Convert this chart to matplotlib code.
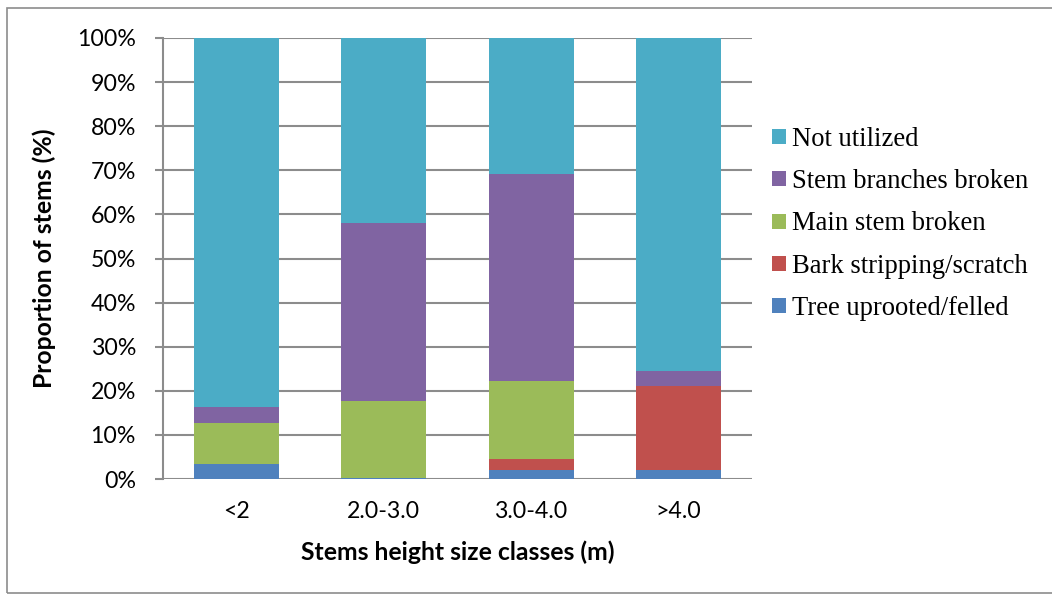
import matplotlib
matplotlib.use("Agg")
import matplotlib.pyplot as plt
from matplotlib.patches import Rectangle
from matplotlib.textpath import TextPath
from matplotlib.font_manager import FontProperties
import numpy as np

categories = ["<2", "2.0-3.0", "3.0-4.0", ">4.0"]
tree_uprooted = [3.4, 0.2, 2.1, 2.1]
bark_stripping = [0.0, 0.0, 2.5, 19.1]
main_stem_broken = [9.2, 17.5, 17.6, 0.0]
stem_branches_broken = [3.8, 40.3, 47.0, 3.3]
not_utilized = [83.6, 42.0, 30.8, 75.5]

series = [
    ("Tree uprooted/felled", tree_uprooted, "#4F81BD"),
    ("Bark stripping/scratch", bark_stripping, "#C0504D"),
    ("Main stem broken", main_stem_broken, "#9BBB59"),
    ("Stem branches broken", stem_branches_broken, "#8064A2"),
    ("Not utilized", not_utilized, "#4BACC6"),
]

W, H = 1052, 601
DPI = 100


def fit_size(text, family, weight, target_px):
    """Font size (pt) so that text renders about target_px wide."""
    fp = FontProperties(family=family, weight=weight, size=100)
    ext = TextPath((0, 0), text, prop=fp).get_extents()
    width_px_at100 = ext.width * DPI / 72.0
    return 100 * target_px / width_px_at100


sans = "Lato"
tick_size = fit_size("100%", sans, "normal", 56)
label_size = fit_size("Stems height size classes (m)", sans, "bold", 312)
legend_size = fit_size("Stem branches broken", "Liberation Serif", "normal", 235)
leg_px = legend_size * DPI / 72.0

fig = plt.figure(figsize=(W / DPI, H / DPI), dpi=DPI)
ax = fig.add_axes([163 / W, 1 - 479 / H, (752 - 163) / W, (479 - 38) / H])

x = np.arange(len(categories))
bottom = np.zeros(len(categories))
handles = []
for name, vals, color in series:
    v = np.array(vals)
    b = ax.bar(x, v, bottom=bottom, width=0.577, color=color, label=name,
               edgecolor="none", zorder=3)
    handles.append(b)
    bottom += v

ax.set_xlim(-0.5, 3.5)
ax.set_ylim(0, 100)
ax.set_yticks(np.arange(0, 101, 10))
ax.set_yticklabels([f"{t}%" for t in range(0, 101, 10)])
ax.set_xticks(x)
ax.set_xticklabels(categories)

for lab in ax.get_yticklabels() + ax.get_xticklabels():
    lab.set_fontfamily(sans)
    lab.set_fontsize(tick_size)
    lab.set_color("black")

ax.yaxis.grid(True, color="#8C8C8C", linewidth=1.5, zorder=0)
ax.set_axisbelow(True)
for s in ["top", "right", "bottom"]:
    ax.spines[s].set_visible(False)
ax.spines["left"].set_color("#8C8C8C")
ax.spines["left"].set_linewidth(1.5)
ax.tick_params(axis="y", length=8 * 72 / DPI, width=1.5, color="#8C8C8C",
               pad=19 * 72 / DPI)
ax.tick_params(axis="x", length=0, pad=22 * 72 / DPI)

ax.set_ylabel("Proportion of stems (%)", fontfamily=sans, fontweight="bold",
              fontsize=label_size)
ax.set_xlabel("Stems height size classes (m)", fontfamily=sans, fontweight="bold",
              fontsize=label_size)
ax.yaxis.set_label_coords((44 - 163) / 589, 0.5)
ax.yaxis.label.set_va("center")
ax.xaxis.set_label_coords(0.5, (479 - 552) / 441)
ax.xaxis.label.set_va("center")

leg = ax.legend(handles[::-1], [s[0] for s in series][::-1],
                loc="center left", bbox_to_anchor=((772 - 163) / 589, (479 - 224) / 441),
                frameon=False, prop={"family": "Liberation Serif", "size": legend_size},
                handlelength=14 / leg_px, handleheight=13 / leg_px,
                handletextpad=6 / leg_px,
                labelspacing=0.65, borderaxespad=0, borderpad=0)

fig.add_artist(Rectangle((7 / W, 1 - 593 / H), (W - 7) / W + 0.01, (593 - 8) / H,
                         transform=fig.transFigure, fill=False,
                         edgecolor="#8C8C8C", linewidth=1.2))

fig.savefig("out.png", dpi=DPI)
